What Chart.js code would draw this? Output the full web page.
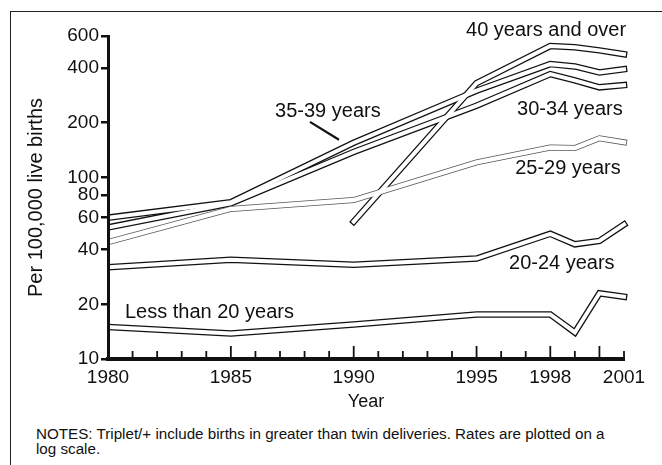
<!DOCTYPE html>
<html>
<head>
<meta charset="utf-8">
<title>Triplet/+ birth rates by age of mother, 1980-2001</title>
<script src="https://cdn.jsdelivr.net/npm/chart.js@4.4.1/dist/chart.umd.min.js"></script>
<style>
  html, body { margin: 0; padding: 0; background: #fff; }
  #wrap { position: relative; width: 662px; height: 465px; overflow: hidden;
          font-family: "Liberation Sans", Arial, Helvetica, sans-serif; color: #111; }
  #frame { position: absolute; left: 10px; top: 11px; width: 700px; height: 500px;
           border-top: 1.5px solid #222; border-left: 1.5px solid #222; }
  #chart { position: absolute; left: 0; top: 0; }
  #notes { position: absolute; left: 36px; top: 426px; font-size: 15.2px; line-height: 15px; white-space: nowrap; }
</style>
</head>
<body>
<div id="wrap">
  <div id="frame"></div>
  <canvas id="chart" width="662" height="420"></canvas>
  <div id="notes">NOTES: Triplet/+ include births in greater than twin deliveries. Rates are plotted on a<br>log scale.</div>
</div>
<script>
// Years with a plotted rate
const years = [1980, 1985, 1990, 1995, 1998, 1999, 2000, 2001];

// Triplet/+ birth rates per 100,000 live births, by age of mother
const ageUnder20 = [15.0, 13.8, 15.5, 17.6, 17.6, 14.0, 23.0, 22.0];
const age20to24  = [32.0, 35.2, 33.0, 35.7, 48.9, 42.8, 44.7, 55.0];
const age25to29  = [44, 67, 75, 121, 146, 145, 164, 156];
const age30to34  = [53, 72, 138, 248, 370, 342, 313, 322];
const age35to39  = [60, 73, 155, 300, 420, 408, 378, 394];
const age40plus  = [null, null, 57, 330, 528, 520, 500, 476];

// Axis ticks
const yTickValues = [10, 20, 40, 60, 80, 100, 200, 400, 600];
const xTickLabels = [1980, 1985, 1990, 1995, 1998, 2001];
const xMinorYears = [1981, 1982, 1983, 1984, 1985, 1986, 1987, 1988, 1989, 1990,
                     1991, 1992, 1993, 1994, 1995, 1996, 1997, 1998, 1999, 2000, 2001];
const xLongTicks  = [1985, 1990, 1995, 1998, 2000];

// Series captions: text, year and rate of the caption's left baseline point
const captionText  = ['40 years and over', '35-39 years', '30-34 years', '25-29 years', '20-24 years', 'Less than 20 years'];
const captionYear  = [1994.57, 1986.80, 1996.65, 1996.57, 1996.32, 1980.69];
const captionRate  = [600, 215, 220, 104, 31.3, 16.8];
// Leader line from the "35-39 years" caption to its curve
const leaderYears = [1988.22, 1989.40];
const leaderRates = [202, 161];

const FONT = '"Liberation Sans", Arial, Helvetica, sans-serif';
const INK = '#111';

// Each curve is drawn as an outlined band: a dark wide stroke, then a white core.
const curves = [
  { values: ageUnder20, edge: INK,    outer: 6.5, inner: 4.0 },
  { values: age20to24,  edge: INK,    outer: 6.5, inner: 4.0 },
  { values: age25to29,  edge: '#555', outer: 6.0, inner: 4.4 },
  { values: age30to34,  edge: INK,    outer: 6.5, inner: 4.0 },
  { values: age35to39,  edge: INK,    outer: 6.5, inner: 4.0 },
  { values: age40plus,  edge: INK,    outer: 6.5, inner: 4.0 }
];

const toPoints = vals => years.map((yr, i) => ({ x: yr, y: vals[i] }));
const clipBox = { left: 0, top: 10, right: 10, bottom: 0 };

const datasets = [];
curves.forEach(c => {
  datasets.push({
    data: toPoints(c.values), borderColor: c.edge, borderWidth: c.outer,
    pointRadius: 0, borderCapStyle: 'square', borderJoinStyle: 'miter',
    tension: 0, spanGaps: false, order: 1, clip: clipBox
  });
});
curves.forEach(c => {
  datasets.push({
    data: toPoints(c.values), borderColor: '#fff', borderWidth: c.inner,
    pointRadius: 0, borderCapStyle: 'square', borderJoinStyle: 'miter',
    tension: 0, spanGaps: false, order: 0, clip: clipBox
  });
});

// Inward-pointing year ticks on the time axis
const yearTicks = {
  id: 'yearTicks',
  afterDraw(chart) {
    const { ctx, scales: { x }, chartArea } = chart;
    ctx.save();
    ctx.strokeStyle = INK;
    ctx.lineWidth = 1.8;
    xMinorYears.forEach(yr => {
      const px = x.getPixelForValue(yr);
      const len = xLongTicks.includes(yr) ? 13 : 8;
      ctx.beginPath();
      ctx.moveTo(px, chartArea.bottom);
      ctx.lineTo(px, chartArea.bottom - len);
      ctx.stroke();
    });
    ctx.restore();
  }
};

// Curve captions and the leader line
const captions = {
  id: 'captions',
  afterDraw(chart) {
    const { ctx, scales: { x, y } } = chart;
    ctx.save();
    ctx.fillStyle = INK;
    ctx.font = '20px ' + FONT;
    ctx.textAlign = 'left';
    ctx.textBaseline = 'alphabetic';
    captionText.forEach((t, i) => {
      ctx.fillText(t, x.getPixelForValue(captionYear[i]), y.getPixelForValue(captionRate[i]));
    });
    ctx.strokeStyle = INK;
    ctx.lineWidth = 2.2;
    ctx.beginPath();
    ctx.moveTo(x.getPixelForValue(leaderYears[0]), y.getPixelForValue(leaderRates[0]));
    ctx.lineTo(x.getPixelForValue(leaderYears[1]), y.getPixelForValue(leaderRates[1]));
    ctx.stroke();
    ctx.restore();
  }
};

new Chart(document.getElementById('chart'), {
  type: 'line',
  data: { datasets },
  options: {
    responsive: false,
    animation: false,
    events: [],
    layout: { padding: { top: 36, right: 38, left: 0, bottom: 0 } },
    plugins: { legend: { display: false }, tooltip: { enabled: false }, title: { display: false } },
    scales: {
      x: {
        type: 'linear', min: 1980, max: 2001, position: 'bottom',
        afterFit: s => { s.height = 61; },
        afterBuildTicks: s => { s.ticks = xTickLabels.map(v => ({ value: v })); },
        grid: { display: false, drawTicks: false },
        border: { display: true, color: INK, width: 4, z: 1 },
        ticks: { color: INK, font: { family: FONT, size: 19 }, padding: 7, maxRotation: 0,
                 autoSkip: false, callback: v => String(v) },
        title: { display: true, text: 'Year', color: INK, font: { family: FONT, size: 18 },
                 padding: { top: 0, bottom: 7 } }
      },
      y: {
        type: 'logarithmic', min: 10, max: 600, position: 'left',
        afterFit: s => { s.width = 108; },
        afterBuildTicks: s => { s.ticks = yTickValues.map(v => ({ value: v })); },
        grid: { display: true, drawOnChartArea: false, drawTicks: true, tickLength: 7,
                lineWidth: 2.5, color: INK },
        border: { display: true, color: INK, width: 3, z: 1 },
        ticks: { color: INK, font: { family: FONT, size: 19 }, padding: 2, autoSkip: false,
                 callback: v => String(v) },
        title: { display: true, text: 'Per 100,000 live births', color: INK,
                 font: { family: FONT, size: 20 }, padding: { top: 24, bottom: 0 } }
      }
    }
  },
  plugins: [yearTicks, captions]
});
</script>
</body>
</html>
